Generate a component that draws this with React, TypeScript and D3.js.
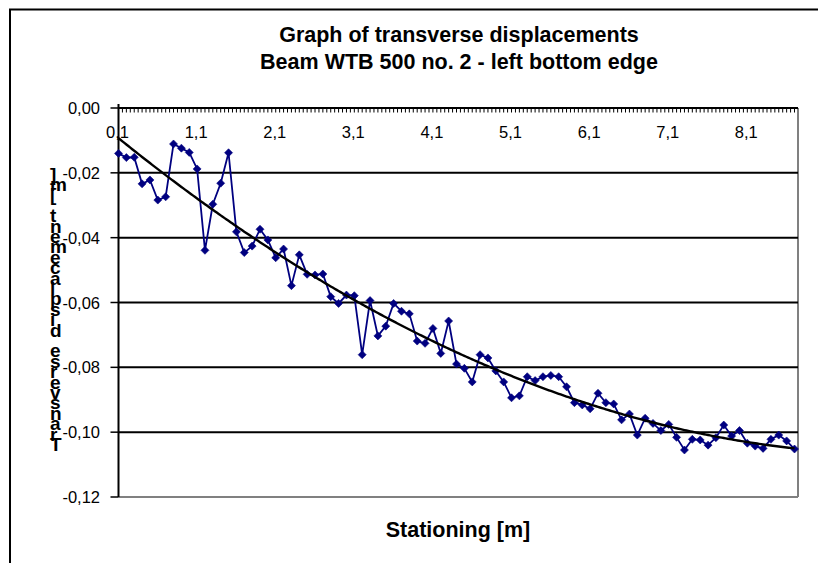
import React from 'react';
import * as d3 from 'd3';

// Stationing [m] (categories)
const stations: number[] = [
  0.1, 0.2, 0.3, 0.4, 0.5, 0.6, 0.7, 0.8, 0.9, 1.0,
  1.1, 1.2, 1.3, 1.4, 1.5, 1.6, 1.7, 1.8, 1.9, 2.0,
  2.1, 2.2, 2.3, 2.4, 2.5, 2.6, 2.7, 2.8, 2.9, 3.0,
  3.1, 3.2, 3.3, 3.4, 3.5, 3.6, 3.7, 3.8, 3.9, 4.0,
  4.1, 4.2, 4.3, 4.4, 4.5, 4.6, 4.7, 4.8, 4.9, 5.0,
  5.1, 5.2, 5.3, 5.4, 5.5, 5.6, 5.7, 5.8, 5.9, 6.0,
  6.1, 6.2, 6.3, 6.4, 6.5, 6.6, 6.7, 6.8, 6.9, 7.0,
  7.1, 7.2, 7.3, 7.4, 7.5, 7.6, 7.7, 7.8, 7.9, 8.0,
  8.1, 8.2, 8.3, 8.4, 8.5, 8.6, 8.7,
];

// Transverse displacement [m]
const displacement: number[] = [
  -0.0140, -0.0153, -0.0152, -0.0234, -0.0222, -0.0284, -0.0274, -0.0111, -0.0124, -0.0137,
  -0.0188, -0.0439, -0.0297, -0.0232, -0.0138, -0.0382, -0.0446, -0.0426, -0.0374, -0.0407,
  -0.0462, -0.0435, -0.0548, -0.0453, -0.0513, -0.0515, -0.0512, -0.0582, -0.0603, -0.0577,
  -0.0579, -0.0761, -0.0594, -0.0703, -0.0673, -0.0603, -0.0627, -0.0635, -0.0719, -0.0726,
  -0.0680, -0.0757, -0.0657, -0.0790, -0.0803, -0.0845, -0.0761, -0.0771, -0.0811, -0.0845,
  -0.0894, -0.0888, -0.0829, -0.0841, -0.0829, -0.0825, -0.0829, -0.0860, -0.0909, -0.0916,
  -0.0928, -0.0880, -0.0909, -0.0913, -0.0962, -0.0944, -0.1009, -0.0957, -0.0973, -0.0995,
  -0.0976, -0.1016, -0.1055, -0.1022, -0.1024, -0.1040, -0.1017, -0.0978, -0.1012, -0.0995,
  -0.1034, -0.1043, -0.1050, -0.1022, -0.1009, -0.1027, -0.1052,
];

const yTicks: number[] = [0, -0.02, -0.04, -0.06, -0.08, -0.1, -0.12];
const titleLines: string[] = [
  'Graph of transverse displacements',
  'Beam WTB 500 no. 2 - left bottom edge',
];
const xAxisTitle = 'Stationing [m]';
const yAxisTitle = 'Transverse displacement [m]';
const labelEvery = 10;

// quadratic least-squares fit (polynomial trendline of order 2) on category index
function quadFit(ys: number[]): [number, number, number] {
  let s0 = 0, s1 = 0, s2 = 0, s3 = 0, s4 = 0, t0 = 0, t1 = 0, t2 = 0;
  ys.forEach((yv, i) => {
    const xv = i + 1;
    s0 += 1; s1 += xv; s2 += xv * xv; s3 += xv ** 3; s4 += xv ** 4;
    t0 += yv; t1 += xv * yv; t2 += xv * xv * yv;
  });
  const A = [
    [s0, s1, s2, t0],
    [s1, s2, s3, t1],
    [s2, s3, s4, t2],
  ];
  for (let c = 0; c < 3; c++) {
    for (let r = c + 1; r < 3; r++) {
      const f = A[r][c] / A[c][c];
      for (let k = c; k < 4; k++) A[r][k] -= f * A[c][k];
    }
  }
  const sol = [0, 0, 0];
  for (let r = 2; r >= 0; r--) {
    let s = A[r][3];
    for (let k = r + 1; k < 3; k++) s -= A[r][k] * sol[k];
    sol[r] = s / A[r][r];
  }
  return [sol[0], sol[1], sol[2]];
}

const FONT = '"Liberation Sans", Arial, Helvetica, sans-serif';

export default function App() {
  const W = 818, H = 563;
  const plotLeft = 118.5, plotRight = 798, plotTop = 108, plotBottom = 497;
  const firstX = 118.5, lastX = 794.5;

  const x = d3.scaleLinear().domain([0, stations.length - 1]).range([firstX, lastX]);
  const y = d3.scaleLinear().domain([-0.12, 0]).range([plotBottom, plotTop]);

  const loc = d3.formatLocale({ decimal: ',', thousands: '.', grouping: [3], currency: ['', ''], minus: '-' });
  const fmtY = loc.format('.2f');
  const fmtX = loc.format('.1f');

  const line = d3.line<number>().x((_, i) => x(i)).y((d) => y(d));
  const [a, b, c] = quadFit(displacement);
  const trendIdx = d3.range(0, stations.length - 1 + 0.001, 0.25);
  const trend = d3.line<number>().x((t) => x(t)).y((t) => {
    const xv = t + 1;
    return y(a + b * xv + c * xv * xv);
  });

  const step = (lastX - firstX) / (stations.length - 1);
  const halfTicks = d3.range(0, Math.floor(((plotRight - firstX) / step) * 2) + 1, 1).map((k) => k / 2);

  const navy = '#000080';
  const r = 4;

  return (
    <svg width={W} height={H} style={{ position: 'absolute', left: 0, top: 0, background: '#fff' }} fontFamily={FONT}>
      <rect x={0} y={0} width={W} height={H} fill="#fff" />
      {/* chart frame */}
      <rect x={10} y={9.5} width={W + 20} height={H + 20} fill="none" stroke="#000" strokeWidth={2} />

      {/* title */}
      {titleLines.map((t, i) => (
        <text key={i} x={459} y={42 + i * 27} textAnchor="middle" fontSize={21.5} fontWeight="bold" fill="#000">{t}</text>
      ))}

      {/* plot area border (right & bottom, gray) */}
      <line x1={plotRight} x2={plotRight} y1={plotTop} y2={plotBottom} stroke="#808080" strokeWidth={2} />
      <line x1={plotLeft} x2={plotRight} y1={plotBottom} y2={plotBottom} stroke="#808080" strokeWidth={2} />

      {/* gridlines */}
      {yTicks.filter((v) => v !== 0 && v !== -0.12).map((v) => (
        <line key={v} x1={plotLeft} x2={plotRight} y1={y(v)} y2={y(v)} stroke="#000" strokeWidth={2} />
      ))}

      {/* y axis */}
      <line x1={plotLeft} x2={plotLeft} y1={plotTop - 4} y2={plotBottom} stroke="#000" strokeWidth={2} />
      {yTicks.map((v) => (
        <g key={'yt' + v}>
          <line x1={plotLeft - 8} x2={plotLeft} y1={y(v)} y2={y(v)} stroke="#000" strokeWidth={1.5} />
          <text x={100} y={y(v) + 6} textAnchor="end" fontSize={16.5} fill="#000">{fmtY(v)}</text>
        </g>
      ))}

      {/* x axis (at top, value 0) */}
      <line x1={plotLeft} x2={plotRight} y1={plotTop} y2={plotTop} stroke="#000" strokeWidth={2} />
      {halfTicks.map((k) => (
        <line key={'xt' + k} x1={x(k)} x2={x(k)} y1={plotTop} y2={plotTop + 4.5} stroke="#000" strokeWidth={1} />
      ))}
      {stations.map((s, i) => i % labelEvery === 0 ? (
        <text key={'xl' + i} x={x(i) - 1} y={138} textAnchor="middle" fontSize={16.5} fill="#000">{fmtX(s)}</text>
      ) : null)}

      {/* data series */}
      <path d={line(displacement) || ''} fill="none" stroke={navy} strokeWidth={1.8} />
      {displacement.map((v, i) => {
        const cx = x(i), cy = y(v);
        return <path key={'m' + i} d={`M${cx},${cy - r}L${cx + r},${cy}L${cx},${cy + r}L${cx - r},${cy}Z`} fill={navy} stroke={navy} strokeWidth={0.6} />;
      })}

      {/* trendline */}
      <path d={trend(trendIdx) || ''} fill="none" stroke="#000" strokeWidth={2.4} />

      {/* axis titles */}
      <text x={458} y={537} textAnchor="middle" fontSize={21.5} fontWeight="bold" fill="#000">{xAxisTitle}</text>
      {yAxisTitle.split('').map((ch, k) => (
        <text key={'yc' + k} x={50} y={451 - k * 10.4} fontSize={19} fontWeight="bold" fill="#000">{ch}</text>
      ))}
    </svg>
  );
}
